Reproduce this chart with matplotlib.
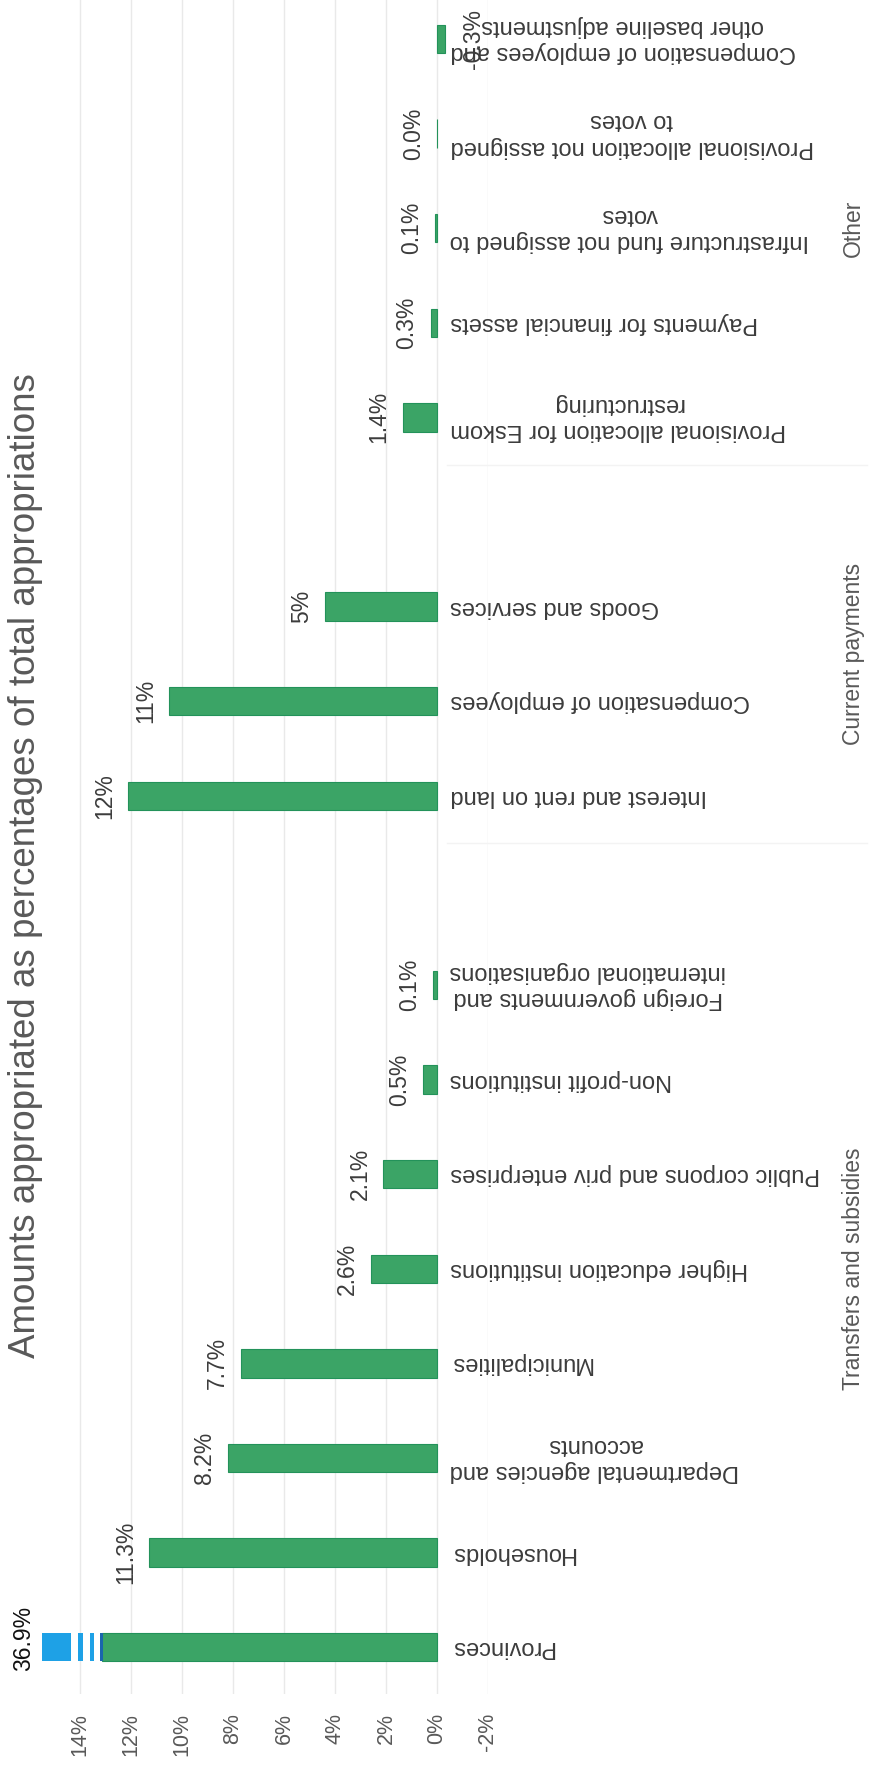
import matplotlib
matplotlib.use("Agg")
import matplotlib.pyplot as plt
import matplotlib.transforms as mtransforms

plt.rcParams['font.family'] = ['Liberation Sans', 'DejaVu Sans']

# ---------------- data ----------------
title = "Amounts appropriated as percentages of total appropriations"

group_names = ["Transfers and subsidies", "Current payments", "Other"]

transfers_cats = ["Provinces", "Households", "Departmental agencies and\naccounts",
                  "Municipalities", "Higher education institutions",
                  "Public corpons and priv enterprises", "Non-profit institutions",
                  "Foreign governments and\ninternational organisations"]
transfers_vals = [36.9, 11.3, 8.2, 7.7, 2.6, 2.1, 0.55, 0.15]
transfers_labels = ["36.9%", "11.3%", "8.2%", "7.7%", "2.6%", "2.1%", "0.5%", "0.1%"]

current_cats = ["Interest and rent on land", "Compensation of employees", "Goods and services"]
current_vals = [12.1, 10.5, 4.4]
current_labels = ["12%", "11%", "5%"]

other_cats = ["Provisional allocation for Eskom\nrestructuring", "Payments for financial assets",
              "Infrastructure fund not assigned to\nvotes",
              "Provisional allocation not assigned\nto votes",
              "Compensation of employees and\nother baseline adjustments"]
other_vals = [1.35, 0.25, 0.08, 0.0, -0.3]
other_labels = ["1.4%", "0.3%", "0.1%", "0.0%", "-0.3%"]

x_ticks = [14, 12, 10, 8, 6, 4, 2, 0, -2]

# ---------------- style ----------------
GREEN = '#3ba466'
GREEN_EDGE = '#23925a'
BLUE = '#1ea1e6'
DARK_BLUE = '#1a66ad'
GRID = '#e9e9e9'
LABEL_C = '#3c3c3c'
GRAY = '#595959'
X_MIN, X_MAX = -2, 15.5
BREAK_AT = 13.15
# (offset from break, width or None = to axis end, colour)
BREAK_PATTERN = [(-0.05, 0.1, DARK_BLUE), (0.3, 0.17, BLUE), (0.72, 0.2, BLUE), (1.2, None, BLUE)]

W, H = 874, 1773
fig = plt.figure(figsize=(W / 100, H / 100), dpi=100)
ax_left_px = 437 - 15.5 * 25.5
ax_right_px = 488
ax = fig.add_axes([ax_left_px / W, 1 - 1694 / H, (ax_right_px - ax_left_px) / W, 1694 / H])

# build category sequence (blank slot closes each of the first two groups)
cats, vals, labels, group_spans = [], [], [], []
for gcats, gvals, glabels, blank in [(transfers_cats, transfers_vals, transfers_labels, True),
                                     (current_cats, current_vals, current_labels, True),
                                     (other_cats, other_vals, other_labels, False)]:
    start = len(cats)
    cats += gcats
    vals += gvals
    labels += glabels
    if blank:
        cats.append(None); vals.append(None); labels.append(None)
    group_spans.append((start, len(cats) - 1))

pos = list(range(len(cats)))
bar_h = 0.3

real_pos = [p for p, v in zip(pos, vals) if v is not None]
real_vals = [v for v in vals if v is not None]
shown = [min(v, BREAK_AT) if v > X_MAX else v for v in real_vals]
ax.barh(real_pos, shown, height=bar_h, color=GREEN, edgecolor=GREEN_EDGE, linewidth=0.8, zorder=3)

# broken bars (values beyond the axis)
for p, v in zip(real_pos, real_vals):
    if v > X_MAX:
        for off, wid, col in BREAK_PATTERN:
            left = BREAK_AT + off
            width = (X_MAX - left) if wid is None else wid
            ax.barh(p, width, left=left, height=bar_h, color=col, linewidth=0, zorder=4)

ax.set_xlim(X_MAX, X_MIN)
ax.set_ylim(-0.495, 17.412)
ax.set_xticks(x_ticks)
ax.set_xticklabels([f"{t}%" for t in x_ticks], rotation=90)
ax.set_yticks([])
ax.tick_params(axis='x', length=0, pad=13.5, labelsize=15.5, labelcolor=GRAY)
for s in ax.spines.values():
    s.set_visible(False)
ax.grid(axis='x', color=GRID, linewidth=1.0, zorder=0)
ax.set_axisbelow(True)

# value labels
for p, v, lab in zip(pos, vals, labels):
    if v is None:
        continue
    if v > X_MAX:
        tr = mtransforms.offset_copy(ax.transData, fig=fig, x=-12, y=9, units='dots')
        ax.text(X_MAX, p, lab, transform=tr, rotation=90, rotation_mode='anchor',
                ha='center', va='baseline', fontsize=16.5, color='#111111')
    elif v >= 0:
        tr = mtransforms.offset_copy(ax.transData, fig=fig, x=-17, y=0, units='dots')
        ax.text(v, p, lab, transform=tr, rotation=90, rotation_mode='anchor',
                ha='center', va='baseline', fontsize=16.5, color=LABEL_C)
    else:
        tr = mtransforms.offset_copy(ax.transData, fig=fig, x=17, y=0, units='dots')
        ax.text(v, p, lab, transform=tr, rotation=90, rotation_mode='anchor',
                ha='center', va='top', fontsize=16.5, color=LABEL_C, zorder=6)

# category labels (upside down, right of the zero line)
cat_tr = mtransforms.offset_copy(ax.transData, fig=fig, x=13, y=0, units='dots')
for p, c in zip(pos, cats):
    if c is None:
        continue
    ax.text(0, p, c, transform=cat_tr, rotation=180, rotation_mode='anchor',
            ha='right', va='center', multialignment='center', linespacing=1.25,
            fontsize=17, color=LABEL_C, zorder=5)

# group labels and dividers
gtr = mtransforms.blended_transform_factory(fig.transFigure, ax.transData)
for name, (a, b) in zip(group_names, group_spans):
    ax.text(860 / W, (a + b) / 2, name, transform=gtr, rotation=90, rotation_mode='anchor',
            ha='center', va='baseline', fontsize=16.5, color=GRAY)
for a, b in group_spans[:-1]:
    ax.plot([447 / W, 867 / W], [b + 0.5, b + 0.5], transform=gtr, color='#f3f3f3',
            linewidth=1.0, clip_on=False, zorder=1)

# title
fig.text(35 / W, 1 - 866 / H, title, rotation=90, rotation_mode='anchor',
         ha='center', va='baseline', fontsize=26.5, color=GRAY)

fig.savefig("out.png", dpi=100, facecolor='white')
